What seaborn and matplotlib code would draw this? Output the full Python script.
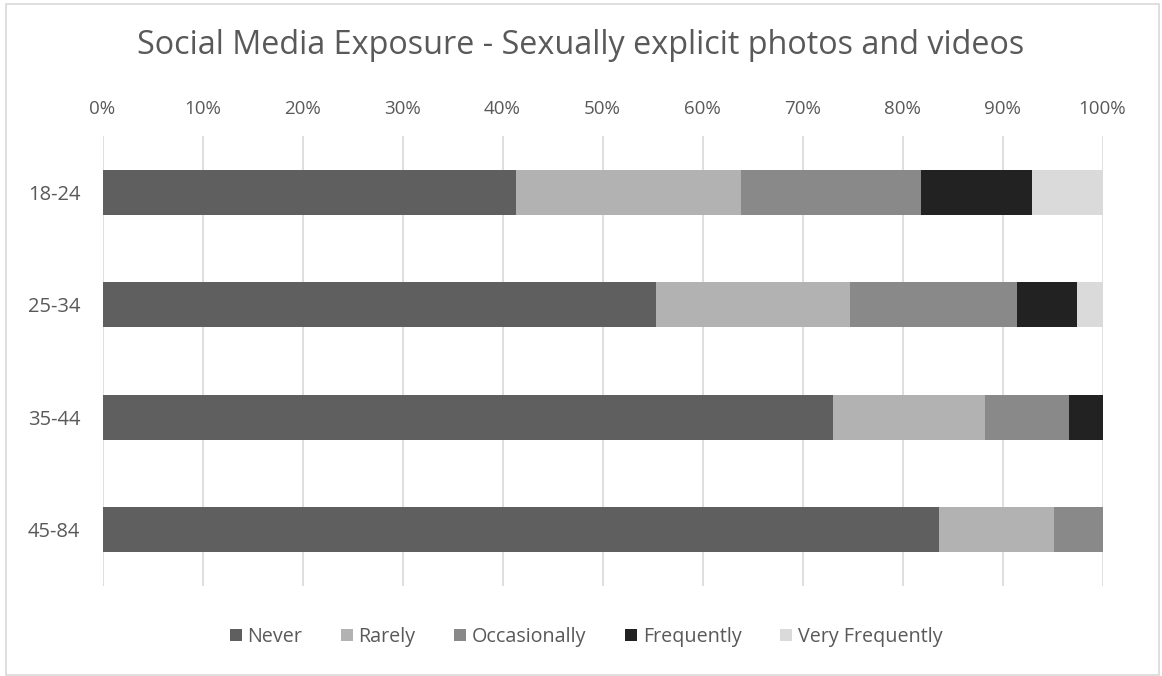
import matplotlib
matplotlib.use("Agg")
import matplotlib.pyplot as plt
from matplotlib.patches import Rectangle, Patch
import seaborn as sns
import pandas as pd
import numpy as np

ages = ["18-24", "25-34", "35-44", "45-84"]
series = ["Never", "Rarely", "Occasionally", "Frequently", "Very Frequently"]
never = [41.3, 55.35, 73.05, 83.6]
rarely = [22.55, 19.35, 15.2, 11.55]
occasionally = [18.05, 16.7, 8.4, 4.85]
frequently = [11.05, 6.0, 3.35, 0.0]
very_frequently = [7.05, 2.6, 0.0, 0.0]
colors = ["#5f5f5f", "#b2b2b2", "#898989", "#222222", "#dadada"]
xticks = [0, 10, 20, 30, 40, 50, 60, 70, 80, 90, 100]

sns.set_theme(style="white")
plt.rcParams["font.family"] = ["Open Sans", "DejaVu Sans"]
text_color = "#595959"

fig = plt.figure(figsize=(11.62, 6.76), dpi=100)
ax = fig.add_axes([102.5 / 1162, 1 - 586 / 676, 1000 / 1162, 450 / 676])

vals = np.array([never, rarely, occasionally, frequently, very_frequently])
cum = np.cumsum(vals, axis=0)
# draw from the full stack down to the first segment so each overlays the previous
for i in range(len(series) - 1, -1, -1):
    df = pd.DataFrame({"age": ages, "value": cum[i]})
    sns.barplot(data=df, x="value", y="age", orient="h", color=colors[i],
                width=0.4, ax=ax, saturation=1, edgecolor="none", linewidth=0, zorder=3)

ax.set_xlim(0, 100)
ax.set_ylim(3.5, -0.5)
ax.set_xticks(xticks)
ax.set_xticklabels([f"{t}%" for t in xticks])
ax.xaxis.tick_top()
ax.tick_params(axis="x", length=0, pad=13, labelsize=13.5, colors=text_color)
ax.tick_params(axis="y", length=0, pad=16, labelsize=14.5, colors=text_color)
ax.set_xlabel("")
ax.set_ylabel("")
for s in ax.spines.values():
    s.set_visible(False)
ax.grid(axis="x", color="#d9d9d9", linewidth=1.2, zorder=0)
ax.set_axisbelow(True)

fig.text(0.5, 1 - 46 / 676, "Social Media Exposure - Sexually explicit photos and videos",
         ha="center", va="center", fontsize=23.3, color=text_color)

handles = [Patch(facecolor=c, edgecolor="none", label=s) for c, s in zip(colors, series)]
fig.legend(handles=handles, loc="center", bbox_to_anchor=(586 / 1162, 1 - 637 / 676),
           ncol=5, frameon=False, fontsize=14.2, labelcolor=text_color,
           handlelength=0.6, handleheight=0.6, handletextpad=0.3, columnspacing=1.95)

fig.patches.append(Rectangle((6 / 1162, 1 / 676), 1153 / 1162, 671 / 676,
                             transform=fig.transFigure, fill=False,
                             edgecolor="#d9d9d9", linewidth=1.2))

fig.savefig("out.png", dpi=100)
